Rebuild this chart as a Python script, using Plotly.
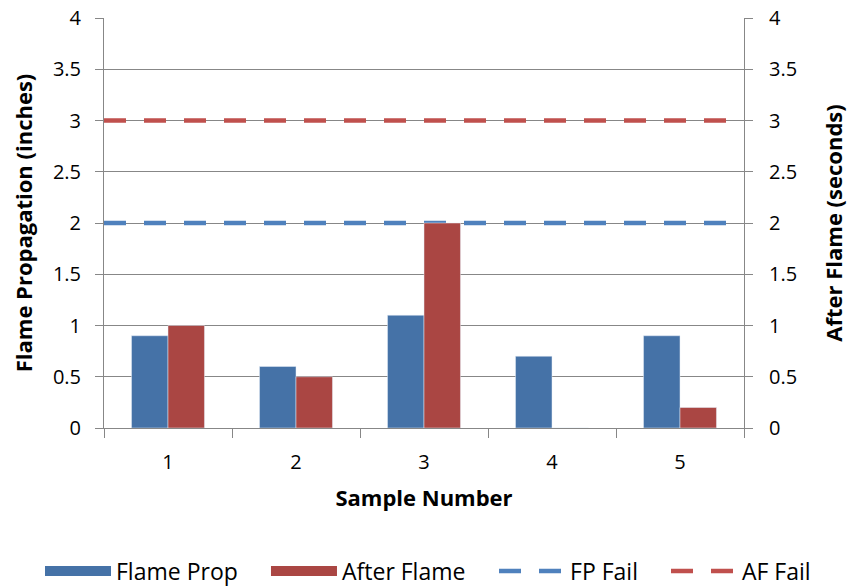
import plotly.graph_objects as go

samples = [1, 2, 3, 4, 5]
sample_labels = ["1", "2", "3", "4", "5"]
flame_prop = [0.9, 0.6, 1.1, 0.7, 0.9]
after_flame = [1.0, 0.5, 2.0, 0.0, 0.2]
fp_fail = 2.0
af_fail = 3.0
line_x = [0.5, 5.5]
boundaries = [0.5, 1.5, 2.5, 3.5, 4.5, 5.5]
y_ticks = [0, 0.5, 1, 1.5, 2, 2.5, 3, 3.5, 4]
y_tick_text = ["0", "0.5", "1", "1.5", "2", "2.5", "3", "3.5", "4"]

BLUE = "#4572A7"
RED = "#AA4643"
LBLUE = "#4F81BD"
LRED = "#C0504D"
GRID = "#878787"
FONT = "Open Sans"

fig = go.Figure()
fig.add_trace(go.Bar(x=samples, y=flame_prop, name="Flame Prop", marker_color=BLUE,
                     width=0.285, offset=-0.285, yaxis="y", showlegend=False,
                     legendgroup="fp"))
fig.add_trace(go.Bar(x=samples, y=after_flame, name="After Flame", marker_color=RED,
                     width=0.285, offset=0, yaxis="y2", showlegend=False,
                     legendgroup="af"))
# legend swatches shaped like the wide rectangles of the original
fig.add_trace(go.Scatter(x=[None], y=[None], mode="lines", name="Flame Prop",
                         line=dict(color=BLUE, width=15), legendgroup="fp",
                         legend="legend"))
fig.add_trace(go.Scatter(x=[None], y=[None], mode="lines", name="After Flame",
                         line=dict(color=RED, width=15), legendgroup="af",
                         legend="legend2"))
fig.add_trace(go.Scatter(x=line_x, y=[fp_fail] * 2, mode="lines", name="FP Fail",
                         line=dict(color=LBLUE, width=4.5, dash="22px,18px"), yaxis="y",
                         legend="legend3"))
fig.add_trace(go.Scatter(x=line_x, y=[af_fail] * 2, mode="lines", name="AF Fail",
                         line=dict(color=LRED, width=4.5, dash="22px,18px"), yaxis="y",
                         legend="legend4"))

LEG_Y = -0.349


def leg(x):
    return dict(orientation="h", x=x, xanchor="left", y=LEG_Y, yanchor="middle",
                font=dict(size=23), itemwidth=66, bgcolor="rgba(0,0,0,0)")


fig.update_layout(
    width=848, height=587,
    margin=dict(l=104, r=104, t=18, b=159, autoexpand=False),
    paper_bgcolor="white", plot_bgcolor="white",
    font=dict(family=FONT, size=20, color="black"),
    showlegend=True,
    legend=leg(-0.1),
    legend2=leg(0.2531),
    legend3=leg(0.6094),
    legend4=leg(0.8781),
    xaxis=dict(range=[0.5, 5.5], tickvals=samples, ticktext=sample_labels, ticks="",
               showline=True, linecolor=GRID, linewidth=1, showgrid=False, zeroline=False,
               minor=dict(tickvals=boundaries, ticks="outside", ticklen=9, tickcolor=GRID,
                          showgrid=False),
               ticklabelstandoff=16,
               title=dict(text="<b>Sample Number</b>", font=dict(size=22), standoff=16),
               tickfont=dict(size=20)),
    yaxis=dict(range=[0, 4], tickvals=y_ticks, ticktext=y_tick_text, ticks="outside",
               ticklen=8, tickcolor=GRID, showline=True, linecolor=GRID, linewidth=1,
               showgrid=True, gridcolor=GRID, gridwidth=1, zeroline=False,
               ticklabelstandoff=10,
               title=dict(text="<b>Flame Propagation (inches)</b>", font=dict(size=22),
                          standoff=14),
               tickfont=dict(size=20)),
    yaxis2=dict(range=[0, 4], tickvals=y_ticks, ticktext=y_tick_text, ticks="outside",
                ticklen=8, tickcolor=GRID, showline=True, linecolor=GRID, linewidth=1,
                overlaying="y", side="right", showgrid=False, zeroline=False,
                ticklabelstandoff=12,
                title=dict(text="<b>After Flame (seconds)</b>", font=dict(size=22),
                           standoff=32),
                tickfont=dict(size=20)),
)

fig.write_html("out.html")
